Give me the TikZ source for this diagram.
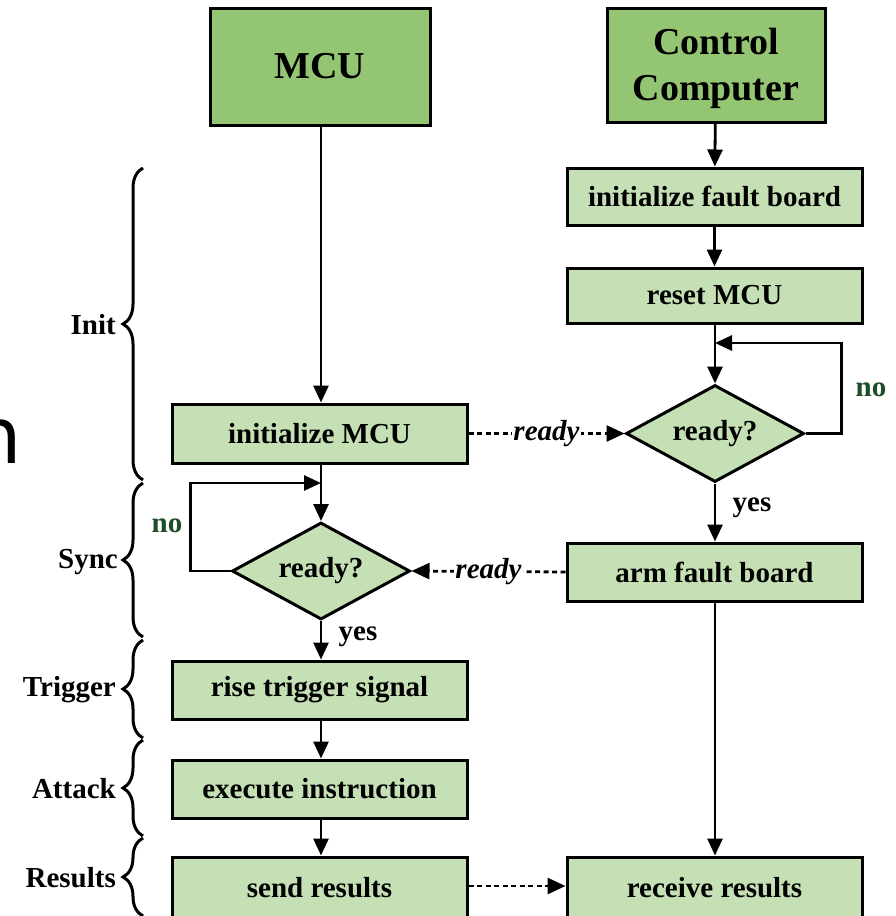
\documentclass[tikz,border=0pt]{standalone}
\usepackage{fontspec}
\setmainfont{Liberation Serif}
\newfontfamily\glyphfont{DejaVu Sans}
\usetikzlibrary{shapes.geometric,arrows.meta,decorations.pathreplacing}

\definecolor{titlegreen}{HTML}{93C572}
\definecolor{stepgreen}{HTML}{C5E0B4}
\definecolor{nogreen}{HTML}{1E4E28}

\tikzset{
  titlebox/.style={draw, line width=3pt, fill=titlegreen, inner sep=0pt,
    align=center, font=\bfseries\fontsize{38}{46}\selectfont},
  stepbox/.style={draw, line width=3pt, fill=stepgreen, inner sep=0pt,
    minimum width=295pt, minimum height=58pt, font=\bfseries\fontsize{29}{32}\selectfont},
  decide/.style={diamond, aspect=1.84, draw, line width=3pt, fill=stepgreen, inner sep=0pt,
    minimum width=178pt, minimum height=97pt, font=\bfseries\fontsize{29}{32}\selectfont},
  flow/.style={line width=2.8pt, -{Triangle[length=17pt,width=15pt]}},
  signal/.style={line width=2.8pt, dash pattern=on 5pt off 3.5pt,
    -{Triangle[length=18pt,width=16pt]}},
  sig/.style={fill=white, inner sep=1pt, font=\bfseries\itshape\fontsize{29}{32}\selectfont},
  answer/.style={font=\bfseries\fontsize{29}{32}\selectfont, inner sep=0pt},
  phase/.style={anchor=east, inner sep=0pt, font=\bfseries\fontsize{29}{32}\selectfont},
  phasebrace/.style={decorate, line width=3pt,
    decoration={brace, amplitude=20pt, aspect=0.5}}
}

\begin{document}
\begin{tikzpicture}[x=1pt, y=-1pt]
  \useasboundingbox (0,0) rectangle (896,916);
  \fill[white] (0,0) rectangle (896,916);

  % stray glyph at the left edge
  \node[anchor=base east, inner sep=0pt, font=\glyphfont\fontsize{78}{80}\selectfont]
    (glyph) at (22,463) {n};

  % column heads
  \node[titlebox, minimum width=220pt, minimum height=117pt] (mcu) at (320,66.5) {MCU};
  \node[titlebox, minimum width=218pt, minimum height=114pt] (cc) at (716,65) {};
  \node[inner sep=0pt, align=center, font=\bfseries\fontsize{38}{46}\selectfont]
    (cctext) at (716,68) {Control\\Computer};

  % control computer column
  \node[stepbox, minimum height=57pt] (initfb) at (714.5,196.5) {initialize fault board};
  \node[stepbox, minimum height=55pt] (reset) at (714.5,295.5) {reset MCU};
  \node[decide] (rdyR) at (715,433.5) {ready?};
  \node[stepbox] (arm) at (714.5,572) {arm fault board};
  \node[stepbox, minimum height=61pt] (recv) at (714.5,887.5) {receive results};

  % MCU column
  \node[stepbox, minimum height=59pt] (initmcu) at (319.5,433.5) {initialize MCU};
  \node[decide] (rdyL) at (321,571) {ready?};
  \node[stepbox] (rise) at (319.5,690) {rise trigger signal};
  \node[stepbox] (exec) at (319.5,789) {execute instruction};
  \node[stepbox, minimum height=61pt] (send) at (319.5,887.5) {send results};

  % loop return points
  \coordinate (loopR) at (715,343);
  \coordinate (loopL) at (321,483);

  % control computer flow
  \draw[flow] (cc) -- (initfb);
  \draw[flow] (initfb) -- (reset);
  \draw[flow] (reset.south -| rdyR.north) -- (rdyR.north);
  \draw[flow] (rdyR.east) -- ++(36,0) |- (loopR);
  \node[answer, text=nogreen] (noR) at (871,390) {no};
  \draw[flow] (rdyR.south) -- (arm.north -| rdyR.south);
  \node[answer] (yesR) at (752,508) {yes};
  \draw[flow] (arm.south -| rdyR.south) -- (recv.north -| rdyR.south);

  % MCU flow
  \draw[flow] (mcu.south -| rdyL.north) -- (initmcu.north -| rdyL.north);
  \draw[flow] (initmcu.south -| rdyL.north) -- (rdyL.north);
  \draw[flow] (rdyL.west) -- ++(-40,0) |- (loopL);
  \node[answer, text=nogreen] (noL) at (167,526) {no};
  \draw[flow] (rdyL.south) -- (rise.north -| rdyL.south);
  \node[answer] (yesL) at (358,637) {yes};
  \draw[flow] (rise.south -| rdyL.south) -- (exec.north -| rdyL.south);
  \draw[flow] (exec.south -| rdyL.south) -- (send.north -| rdyL.south);

  % handshakes between the two sides
  \draw[signal] (initmcu.east) -- node[sig] {ready} (rdyR.west);
  \draw[signal] (arm.west) -- node[sig] {ready} (rdyL.east);
  \draw[signal] (send.east |- 0,886) -- (recv.west |- 0,886);

  % phases
  \draw[phasebrace] (143,480) -- (143,168);
  \node[phase] (pInit) at (116,325) {Init};
  \draw[phasebrace] (143,637) -- (143,483);
  \node[phase] (pSync) at (118,562) {Sync};
  \draw[phasebrace] (143,738) -- (143,640);
  \node[phase] (pTrig) at (116,690) {Trigger};
  \draw[phasebrace] (143,836) -- (143,740);
  \node[phase] (pAtt) at (116,789) {Attack};
  \draw[phasebrace] (143,916) -- (143,838);
  \node[phase] (pRes) at (116,878) {Results};
\end{tikzpicture}
\end{document}
